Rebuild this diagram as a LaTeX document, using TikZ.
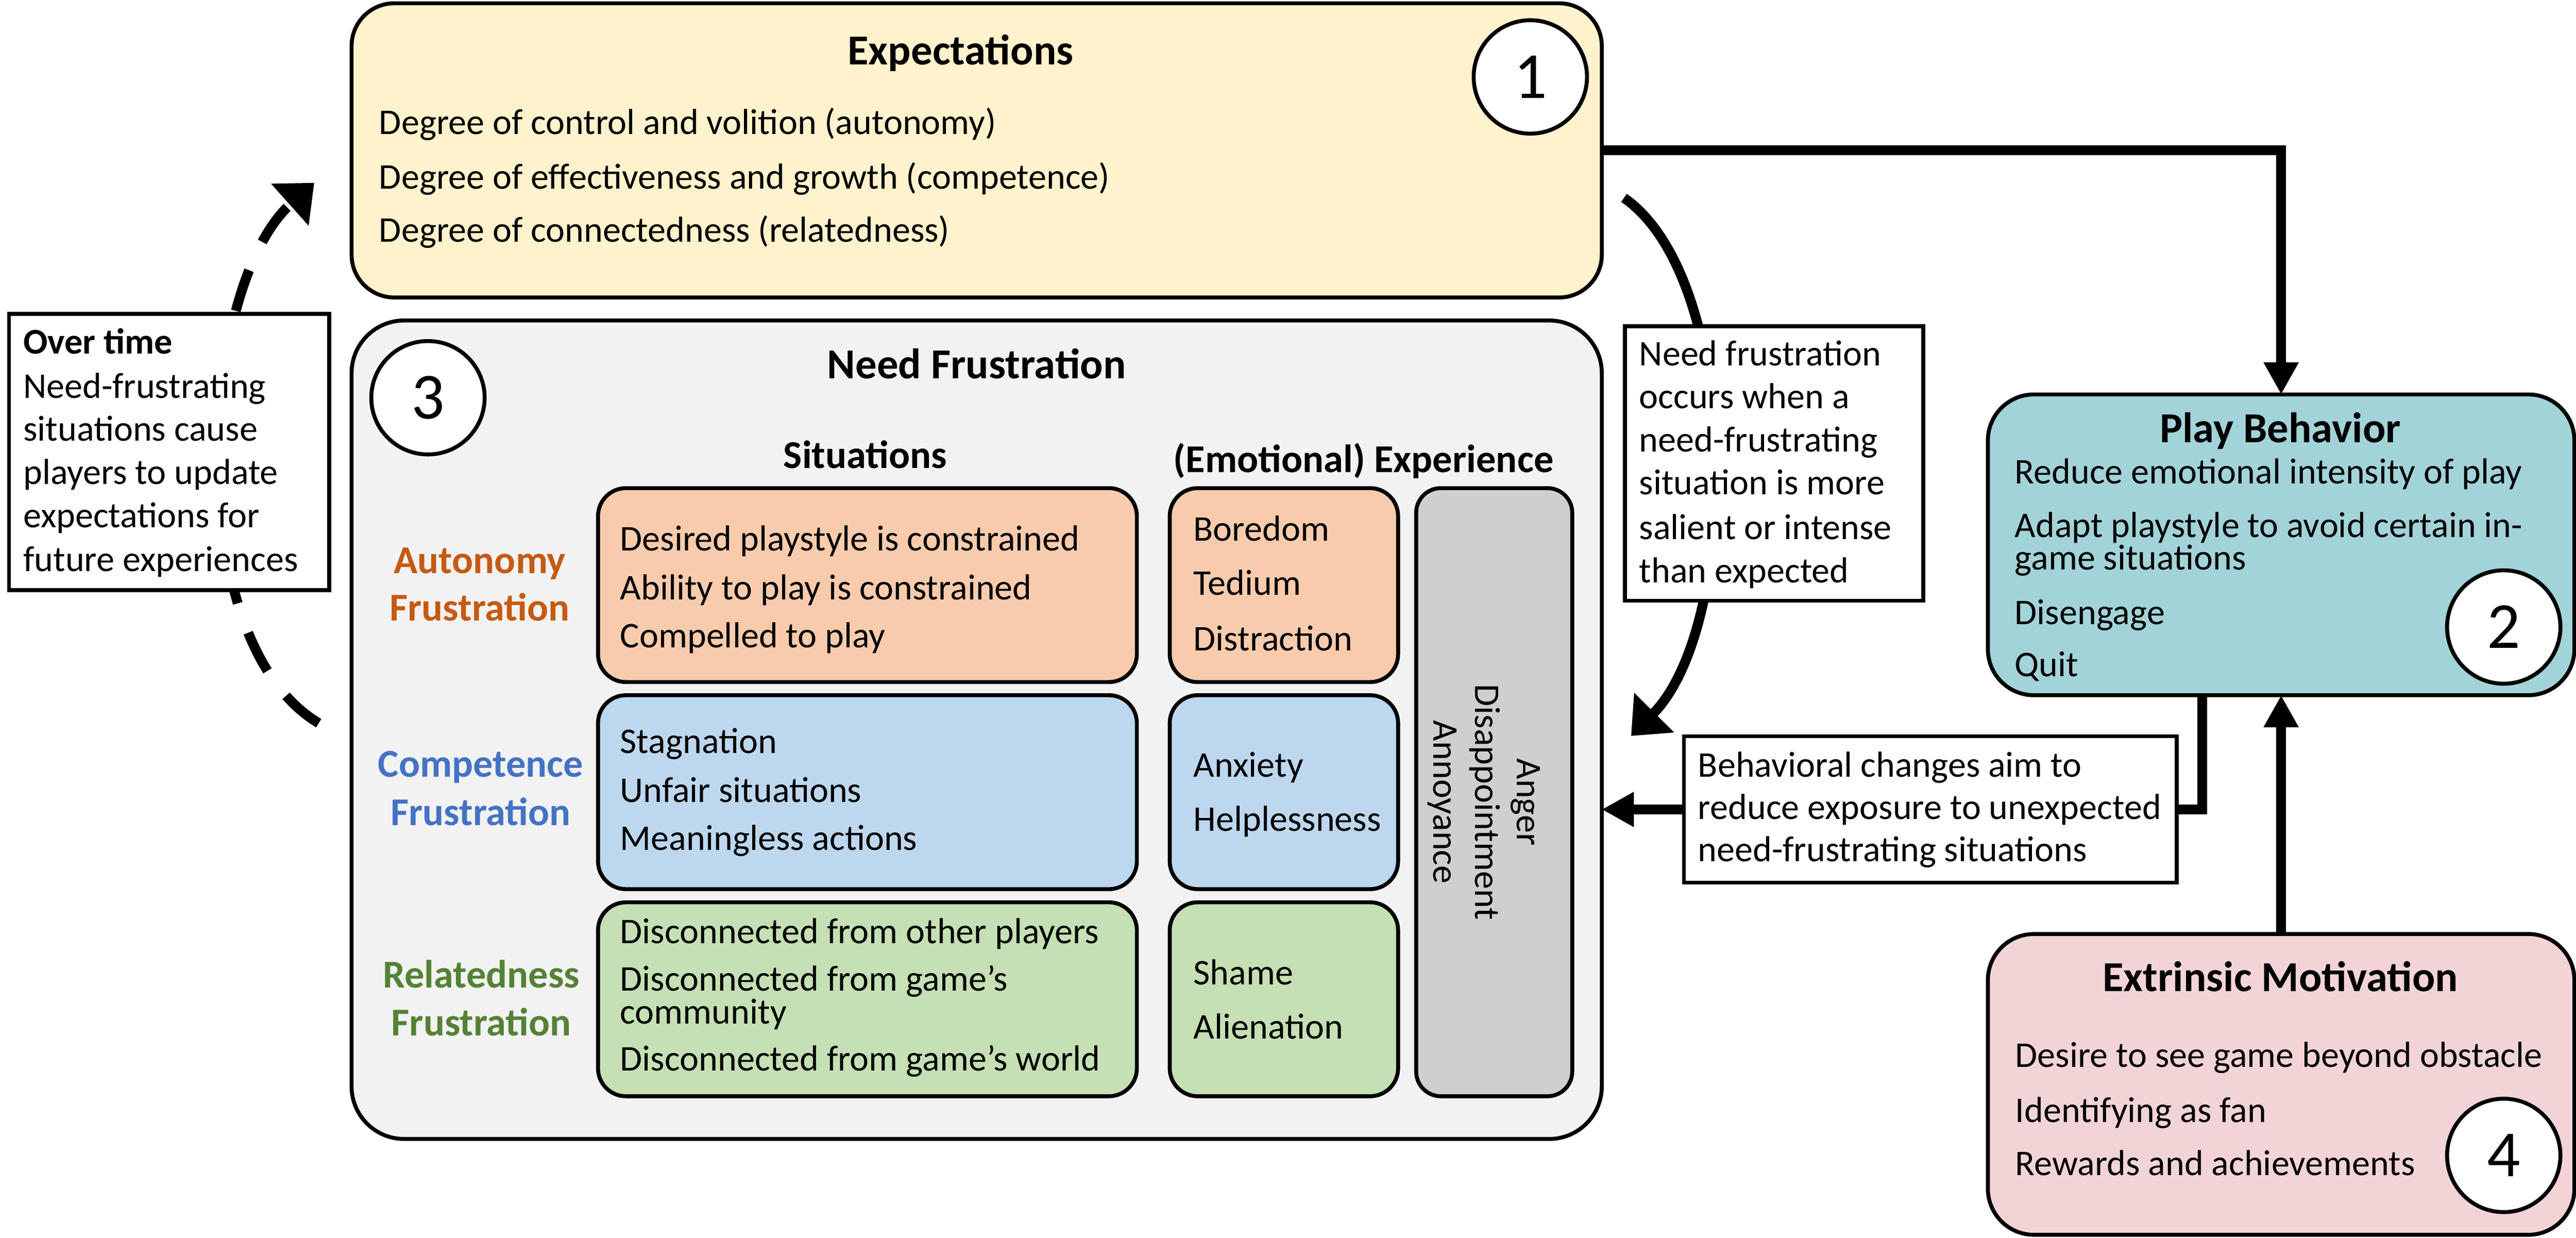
\documentclass[tikz,border=0pt]{standalone}
\usepackage{fontspec}
\setmainfont{Carlito}
\usetikzlibrary{arrows.meta}
\definecolor{expF}{HTML}{FFF2CC}
\definecolor{nfF}{HTML}{F2F2F2}
\definecolor{autF}{HTML}{F8CBAD}
\definecolor{comF}{HTML}{BDD7EE}
\definecolor{relF}{HTML}{C5E0B4}
\definecolor{grayF}{HTML}{D0CECE}
\definecolor{pbF}{HTML}{A2D3D9}
\definecolor{emF}{HTML}{F2D4D7}
\definecolor{autT}{HTML}{C55A11}
\definecolor{comT}{HTML}{4472C4}
\definecolor{relT}{HTML}{548235}
\newcommand\myBody{\fontsize{22pt}{26.4pt}\selectfont}
\newcommand\myTitle{\fontsize{26pt}{31pt}\selectfont\bfseries}
\newcommand\mySub{\fontsize{24pt}{29pt}\selectfont\bfseries}
\newcommand\myNum{\fontsize{40pt}{48pt}\selectfont}
\newcommand\twoLines[3]{\vtop{\baselineskip=#1\lineskiplimit=-100pt\hbox{#2}\hbox{#3}}}
\tikzset{
  rbox/.style={draw, line width=2.4pt, inner sep=0pt, outer sep=0pt},
  numc/.style={circle, draw, fill=white, line width=2.4pt, minimum size=69pt, inner sep=0pt, font=\myNum},
  note/.style={draw, fill=white, line width=2.4pt, inner sep=0pt, outer sep=0pt},
  txt/.style={inner sep=0pt, outer sep=0pt, anchor=base west, font=\myBody},
  ctxt/.style={inner sep=0pt, outer sep=0pt, anchor=base, font=\myBody},
  ttl/.style={inner sep=0pt, outer sep=0pt, anchor=base, font=\myTitle},
  subh/.style={inner sep=0pt, outer sep=0pt, anchor=base, font=\mySub},
  conn/.style={line width=6pt, -{Triangle[length=19.5pt,width=20pt]}},
  cconn/.style={line width=6pt, -{Triangle[length=20pt,width=33pt]}},
}
\begin{document}
\begin{tikzpicture}[x=1pt,y=-1pt]
\useasboundingbox (0,0) rectangle (1568,753.07);
% main boxes
\node[rbox, fill=expF, rounded corners=26pt, minimum width=761pt, minimum height=179pt] (exp) at (594.5,91.5) {};
\node[rbox, fill=nfF, rounded corners=32pt, minimum width=761pt, minimum height=498pt] (nf) at (594.5,444) {};
\node[rbox, fill=pbF, rounded corners=28pt, minimum width=357pt, minimum height=183pt] (pb) at (1388.5,331.5) {};
\node[rbox, fill=emF, rounded corners=28pt, minimum width=357pt, minimum height=183pt] (em) at (1388.5,659.8) {};
% inner boxes
\node[rbox, fill=autF, rounded corners=17pt, minimum width=328pt, minimum height=118pt] (autS) at (528,356) {};
\node[rbox, fill=comF, rounded corners=17pt, minimum width=328pt, minimum height=118pt] (comS) at (528,482) {};
\node[rbox, fill=relF, rounded corners=17pt, minimum width=328pt, minimum height=118pt] (relS) at (528,608) {};
\node[rbox, fill=autF, rounded corners=17pt, minimum width=139pt, minimum height=118pt] (autE) at (781.5,356) {};
\node[rbox, fill=comF, rounded corners=17pt, minimum width=139pt, minimum height=118pt] (comE) at (781.5,482) {};
\node[rbox, fill=relF, rounded corners=17pt, minimum width=139pt, minimum height=118pt] (relE) at (781.5,608) {};
\node[rbox, fill=grayF, rounded corners=15pt, minimum width=95pt, minimum height=370pt] (gr) at (909.5,482) {};
% numbered circles
\node[numc] (c1) at (931.5,46.8) {1};
\node[numc] (c3) at (260.5,242) {3};
\node[numc] (c2) at (1524,381.5) {2};
\node[numc] (c4) at (1524,703) {4};
% connectors
\coordinate (bcc) at (1175,492.5);
\draw[conn] (exp.east) -| (pb.north);
\draw[conn] (em.north) -- (pb.south);
\draw[conn] ([xshift=-48pt]pb.south) |- (nf.east |- bcc);
\coordinate (cs) at (988.5,120.4);
\coordinate (ce) at (992.8,447.8);
\draw[cconn] (cs) .. controls (1060,170) and (1060,380) .. (ce);
\coordinate (ds) at (194,440);
\coordinate (de) at (191.3,111.2);
\draw[cconn, dash pattern=on 26pt off 19pt] (ds) .. controls (110,390) and (120,175) .. (de);
% note boxes
\node[note, minimum width=194.8pt, minimum height=168pt] (ot) at (102.9,275) {};
\node[note, minimum width=181.6pt, minimum height=167pt] (nfn) at (1079.8,282) {};
\node[note, minimum width=300pt, minimum height=89pt] (bc) at (bcc) {};
% Expectations text
\node[ttl] (expT) at (584.7,39.3) {Expectations};
\node[txt] (exp1) at (230.8,81.6) {Degree of control and volition (autonomy)};
\node[txt] (exp2) at (230.8,114.8) {Degree of effectiveness and growth (competence)};
\node[txt] (exp3) at (230.8,147.3) {Degree of connectedness (relatedness)};
% Need frustration
\node[ttl] (nfT) at (594.5,230.3) {Need Frustration};
\node[subh] (sitT) at (526.7,285) {Situations};
\node[subh] (emoT) at (830,287.5) {(Emotional) Experience};
\node[subh, text=autT] (autL1) at (292,349) {Autonomy};
\node[subh, text=autT] (autL2) at (292,377.8) {Frustration};
\node[subh, text=comT] (comL1) at (292.6,472.7) {Competence};
\node[subh, text=comT] (comL2) at (292.6,502.3) {Frustration};
\node[subh, text=relT] (relL1) at (293,601) {Relatedness};
\node[subh, text=relT] (relL2) at (293,630.3) {Frustration};
\node[txt] (as1) at (377.5,335) {Desired playstyle is constrained};
\node[txt] (as2) at (377.5,365) {Ability to play is constrained};
\node[txt] (as3) at (377.5,394) {Compelled to play};
\node[txt] (cs1) at (377.5,458.4) {Stagnation};
\node[txt] (cs2) at (377.5,488) {Unfair situations};
\node[txt] (cs3) at (377.5,517.3) {Meaningless actions};
\node[txt] (rs1) at (377.5,574) {Disconnected from other players};
\node[txt] (rs2) at (377.5,602.8) {\twoLines{20.2pt}{Disconnected from game’s}{community}};
\node[txt] (rs4) at (377.5,651.6) {Disconnected from game’s world};
\node[txt] (ae1) at (726.5,329) {Boredom};
\node[txt] (ae2) at (726.5,362) {Tedium};
\node[txt] (ae3) at (726.5,396) {Distraction};
\node[txt] (ce1) at (726.5,472.7) {Anxiety};
\node[txt] (ce2) at (726.5,505.6) {Helplessness};
\node[txt] (re1) at (726.5,599) {Shame};
\node[txt] (re2) at (726.5,632) {Alienation};
\node[ctxt, rotate=-90] (g1) at (923.3,488) {Anger};
\node[ctxt, rotate=-90] (g2) at (898,488) {Disappointment};
\node[ctxt, rotate=-90] (g3) at (872.6,488) {Annoyance};
% Over time note
\node[txt, font=\myBody\bfseries] (ot1) at (14.2,215.3) {Over time};
\node[txt] (ot2) at (14.2,242.3) {Need-frustrating};
\node[txt] (ot3) at (14.2,268.2) {situations cause};
\node[txt] (ot4) at (14.2,294.5) {players to update};
\node[txt] (ot5) at (14.2,321) {expectations for};
\node[txt] (ot6) at (14.2,347.5) {future experiences};
% Need frustration note
\node[txt] (n1) at (997.8,222.4) {Need frustration};
\node[txt] (n2) at (997.8,248.6) {occurs when a};
\node[txt] (n3) at (997.8,274.9) {need-frustrating};
\node[txt] (n4) at (997.8,301) {situation is more};
\node[txt] (n5) at (997.8,328.2) {salient or intense};
\node[txt] (n6) at (997.8,354.4) {than expected};
% Behavioral changes note
\node[txt] (b1) at (1033.6,472.7) {Behavioral changes aim to};
\node[txt] (b2) at (1033.6,498.6) {reduce exposure to unexpected};
\node[txt] (b3) at (1033.6,524.3) {need-frustrating situations};
% Play behavior
\node[ttl] (pbT) at (1388,269.3) {Play Behavior};
\node[txt] (p1) at (1226.4,294.2) {Reduce emotional intensity of play};
\node[txt] (p2) at (1226.4,326.8) {\twoLines{19.9pt}{Adapt playstyle to avoid certain in-}{game situations}};
\node[txt] (p4) at (1226.4,379.8) {Disengage};
\node[txt] (p5) at (1226.4,411.6) {Quit};
% Extrinsic motivation
\node[ttl] (emT) at (1388,603.2) {Extrinsic Motivation};
\node[txt] (m1) at (1226.7,649.3) {Desire to see game beyond obstacle};
\node[txt] (m2) at (1226.7,683) {Identifying as fan};
\node[txt] (m3) at (1226.7,715) {Rewards and achievements};
\end{tikzpicture}
\end{document}
